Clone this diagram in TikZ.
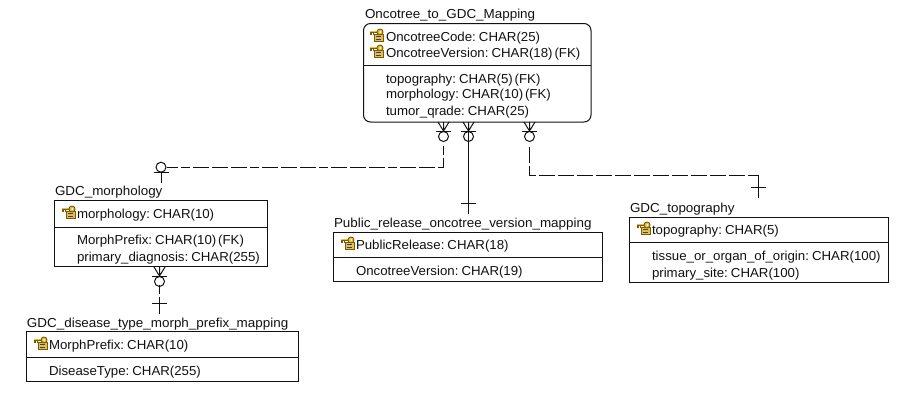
\documentclass[tikz,border=0pt]{standalone}
\usepackage{fontspec}
\setmainfont[FakeStretch=1.02,WordSpace=0.5]{Liberation Sans}
\newfontfamily\titlefont[FakeStretch=1.033]{Liberation Sans}
\definecolor{inkc}{HTML}{111111}
\definecolor{keyy}{HTML}{E8C040}
\definecolor{keyd}{HTML}{7A5A08}
\definecolor{rowb}{HTML}{2A3F90}
\newcommand{\keyicon}[2]{%
  \begin{scope}[shift={(#1,#2)}]
    \draw[keyd,line width=0.9pt,fill=keyy] (4.5,5) rectangle (13.5,12.5);
    \draw[rowb,line width=1pt] (6.5,7.5) -- (11.5,7.5) (6.5,10) -- (11.5,10);
    \draw[keyd,line width=2.4pt] (0.5,2.8) -- (8,2.8);
    \draw[keyy,line width=1.1pt] (0.7,2.8) -- (8,2.8);
    \draw[keyd,line width=1.3pt] (1.5,3.5) -- (1.5,6) (4,3.5) -- (4,6);
    \draw[keyd,line width=0.9pt,fill=keyy] (10.5,3) circle (3);
    \fill[white] (10.8,3) circle (0.9);
  \end{scope}}
\newcommand{\crowfoot}[2]{%
  \draw[conn] (#1-5.5,#2) -- (#1,#2+9) (#1+5.5,#2) -- (#1,#2+9) (#1,#2) -- (#1,#2+9);
  \draw[conn] (#1-7.5,#2+9) -- (#1+7.5,#2+9);
  \draw[conn] (#1,#2+14.5) circle (5);}
\tikzset{
  conn/.style={draw=inkc,line width=1pt},
  dashconn/.style={conn,dash pattern=on 16pt off 3pt},
  tbl/.style={draw=inkc,line width=1pt,fill=white,inner sep=0pt,outer sep=0pt,anchor=north west},
  rtbl/.style={tbl,rounded corners=7pt},
  lbl/.style={anchor=base west,inner sep=0pt,outer sep=0pt,text=inkc,font=\fontsize{13}{15}\selectfont},
  ttl/.style={lbl,font=\fontsize{13}{15}\titlefont},
}
\begin{document}
\begin{tikzpicture}[x=1pt,y=-1pt]
\useasboundingbox (0,0) rectangle (907,415);
\fill[white] (0,0) rectangle (907,415);
% tables
\node[rtbl,minimum width=227.5pt,minimum height=98.5pt] (onc) at (363.5,23.5) {};
\node[tbl,minimum width=213pt,minimum height=66pt] (mor) at (54.5,200.5) {};
\node[tbl,minimum width=268.5pt,minimum height=49pt] (pub) at (333.5,232.5) {};
\node[tbl,minimum width=259pt,minimum height=65pt] (top) at (629.5,217.5) {};
\node[tbl,minimum width=272pt,minimum height=50pt] (dis) at (26.5,331.5) {};
% dividers
\coordinate (oncdiv) at (363.5,65.5);
\coordinate (mordiv) at (54.5,227.5);
\coordinate (pubdiv) at (333.5,257.5);
\coordinate (topdiv) at (629.5,242.5);
\coordinate (disdiv) at (26.5,357.5);
\draw[conn] (oncdiv) -- (oncdiv -| onc.east);
\draw[conn] (mordiv) -- (mordiv -| mor.east);
\draw[conn] (pubdiv) -- (pubdiv -| pub.east);
\draw[conn] (topdiv) -- (topdiv -| top.east);
\draw[conn] (disdiv) -- (disdiv -| dis.east);
% titles
\node[ttl] (t1) at (365,18) {Oncotree\_to\_GDC\_Mapping};
\node[ttl] (t2) at (55,195) {GDC\_morphology};
\node[ttl] (t3) at (334,227) {Public\_release\_oncotree\_version\_mapping};
\node[ttl] (t4) at (630,212) {GDC\_topography};
\node[ttl] (t5) at (27,327) {GDC\_disease\_type\_morph\_prefix\_mapping};
% rows
\keyicon{369.5}{29}
\node[lbl] (a1) at (386,41) {OncotreeCode: CHAR(25)};
\keyicon{369.5}{45}
\node[lbl] (a2) at (386,57) {OncotreeVersion: CHAR(18) (FK)};
\node[lbl] (a3) at (386,83) {topography: CHAR(5) (FK)};
\node[lbl] (a4) at (386,98.5) {morphology: CHAR(10) (FK)};
\node[lbl] (a5) at (386,115) {tumor\_qrade: CHAR(25)};
\keyicon{61.5}{206}
\node[lbl] (b1) at (77,218) {morphology: CHAR(10)};
\node[lbl] (b2) at (77,244) {MorphPrefix: CHAR(10) (FK)};
\node[lbl] (b3) at (77,261) {primary\_diagnosis: CHAR(255)};
\keyicon{340.5}{237}
\node[lbl] (c1) at (356,249) {PublicRelease: CHAR(18)};
\node[lbl] (c2) at (356,275) {OncotreeVersion: CHAR(19)};
\keyicon{636.5}{222}
\node[lbl] (d1) at (652,234) {topography: CHAR(5)};
\node[lbl] (d2) at (652,260) {tissue\_or\_organ\_of\_origin: CHAR(100)};
\node[lbl] (d3) at (652,277) {primary\_site: CHAR(100)};
\keyicon{33.5}{337}
\node[lbl] (e1) at (49,349) {MorphPrefix: CHAR(10)};
\node[lbl] (e2) at (49,375) {DiseaseType: CHAR(255)};
% relationship ends
\crowfoot{443.5}{122}
\crowfoot{468.5}{122}
\crowfoot{529.5}{122}
\crowfoot{159.5}{267}
\coordinate (r1a) at (443.5,145.5);
\coordinate (r1b) at (166.5,167.5);
\coordinate (r2a) at (468.5,122);
\coordinate (r2b) at (468.5,214);
\coordinate (r3a) at (529.5,146.5);
\coordinate (r3c) at (758.5,175.5);
\coordinate (r3b) at (758.5,198);
\coordinate (r4a) at (159.5,284.5);
\coordinate (r4b) at (159.5,314);
% connectors
\draw[conn,dash pattern=on 9pt off 3pt on 16pt off 3pt on 16pt off 3pt on 16pt off 3pt] (r1a) |- (r1b);
\draw[conn] (161,167.2) circle (5);
\draw[conn] (154,172.5) -- (169,172.5);
\draw[conn] (161,172.5) -- (161,183);
\draw[conn] (r2a) -- (r2b);
\draw[conn] (461,203.5) -- (476,203.5);
\draw[dashconn] (r3a) |- (r3c);
\draw[conn] (r3c) -- (r3b);
\draw[conn] (751,187.5) -- (766,187.5);
\draw[conn,dash pattern=on 9pt off 3pt on 30pt off 3pt] (r4a) -- (r4b);
\draw[conn] (152,303.5) -- (167,303.5);
\end{tikzpicture}
\end{document}
